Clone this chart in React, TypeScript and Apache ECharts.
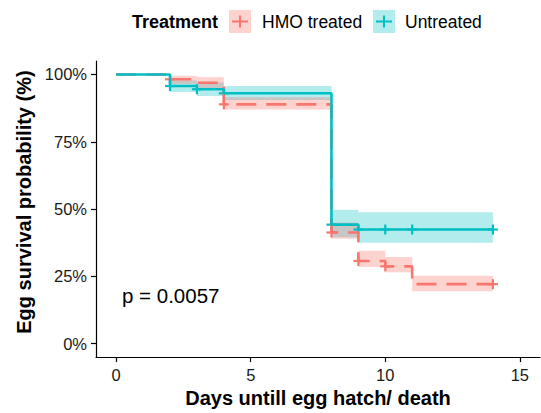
import React, { useEffect, useRef } from "react";
import * as echarts from "echarts";

// Kaplan-Meier step values
const hmoTimes = [0, 2, 3, 4, 8, 9, 10, 11, 14];
const hmoSurv = [1, 0.982, 0.969, 0.889, 0.413, 0.307, 0.287, 0.221, 0.221];
const untTimes = [0, 2, 3, 4, 8, 9, 14];
const untSurv = [1, 0.957, 0.945, 0.93, 0.442, 0.424, 0.424];

// confidence bands: [start, end, lower, upper]
const hmoBands = [
  [2, 3, 0.965, 0.995],
  [3, 4, 0.948, 0.99],
  [4, 8, 0.87, 0.915],
  [8, 9, 0.39, 0.45],
  [9, 10, 0.285, 0.345],
  [10, 11, 0.265, 0.322],
  [11, 14, 0.195, 0.252],
];
const untBands = [
  [2, 3, 0.935, 0.978],
  [3, 4, 0.92, 0.97],
  [4, 8, 0.905, 0.957],
  [8, 9, 0.395, 0.497],
  [9, 14, 0.375, 0.488],
];

// censor marks
const hmoCensorT = [2, 4, 8, 9, 10, 14];
const hmoCensorS = [0.982, 0.889, 0.413, 0.307, 0.287, 0.221];
const untCensorT = [2, 3, 4, 8, 9, 10, 11, 14];
const untCensorS = [0.957, 0.945, 0.93, 0.442, 0.424, 0.424, 0.424, 0.424];

const xTicks = [0, 5, 10, 15];
const yTicks = [0, 0.25, 0.5, 0.75, 1];

const RED = "#F8766D";
const TEAL = "#00BFC4";
const RED_FILL = "rgba(248,118,109,0.32)";
const TEAL_FILL = "rgba(0,191,196,0.3)";
const FONT = "Liberation Sans, Arial, sans-serif";

function bandSeries(data: number[][], fill: string) {
  return {
    type: "custom",
    silent: true,
    data,
    renderItem: (_p: any, api: any) => {
      const a = api.coord([api.value(0), api.value(3)]);
      const b = api.coord([api.value(1), api.value(2)]);
      return {
        type: "rect",
        shape: { x: a[0], y: a[1], width: b[0] - a[0], height: b[1] - a[1] },
        style: { fill },
      };
    },
  };
}

function censorSeries(ts: number[], ss: number[], color: string) {
  return {
    type: "custom",
    silent: true,
    data: ts.map((t, i) => [t, ss[i]]),
    renderItem: (_p: any, api: any) => {
      const c = api.coord([api.value(0), api.value(1)]);
      return {
        type: "group",
        children: [
          {
            type: "line",
            shape: { x1: c[0] - 5, y1: c[1], x2: c[0] + 5, y2: c[1] },
            style: { stroke: color, lineWidth: 2.2 },
          },
          {
            type: "line",
            shape: { x1: c[0], y1: c[1] - 5, x2: c[0], y2: c[1] + 5 },
            style: { stroke: color, lineWidth: 2.2 },
          },
        ],
      };
    },
  };
}

export default function App() {
  const ref = useRef<HTMLDivElement>(null);
  useEffect(() => {
    document.body.style.margin = "0";
    const chart = echarts.init(ref.current!, null, { renderer: "svg" });
    const axisText = { color: "#1a1a1a", fontSize: 16.5, fontFamily: FONT };
    chart.setOption({
      animation: false,
      grid: { left: 96, top: 61, right: 1, bottom: 52 },
      xAxis: {
        type: "value",
        min: -0.75,
        max: 15.75,
        name: "Days untill egg hatch/ death",
        nameLocation: "middle",
        nameGap: 30,
        nameTextStyle: { fontSize: 20, fontWeight: "bold", color: "#000", fontFamily: FONT },
        axisLine: { onZero: false, lineStyle: { color: "#000", width: 1.2 } },
        axisTick: { customValues: xTicks, length: 5, lineStyle: { color: "#000", width: 1.2 } },
        axisLabel: { customValues: xTicks, margin: 9, ...axisText },
        splitLine: { show: false },
      },
      yAxis: {
        type: "value",
        min: -0.05,
        max: 1.05,
        name: "Egg survival probability (%)",
        nameLocation: "middle",
        nameGap: 53,
        nameTextStyle: {
          fontSize: 20,
          fontWeight: "bold",
          color: "#000",
          fontFamily: FONT,
          padding: [0, 0, 0, 14],
        },
        axisLine: { onZero: false, lineStyle: { color: "#000", width: 1.2 } },
        axisTick: { customValues: yTicks, length: 5, lineStyle: { color: "#000", width: 1.2 } },
        axisLabel: {
          customValues: yTicks,
          margin: 9,
          formatter: (v: number) => Math.round(v * 100) + "%",
          ...axisText,
        },
        splitLine: { show: false },
      },
      graphic: [
        {
          type: "text",
          left: 132,
          top: 13,
          style: { text: "Treatment", fontSize: 18, fontWeight: "bold", fill: "#000", fontFamily: FONT },
        },
        { type: "rect", shape: { x: 229, y: 10, width: 22, height: 23 }, style: { fill: RED_FILL } },
        { type: "line", shape: { x1: 232, y1: 21.5, x2: 248, y2: 21.5 }, style: { stroke: RED, lineWidth: 2 } },
        { type: "line", shape: { x1: 240, y1: 15.5, x2: 240, y2: 27.5 }, style: { stroke: RED, lineWidth: 2 } },
        {
          type: "text",
          left: 262,
          top: 13,
          style: { text: "HMO treated", fontSize: 17.5, fill: "#000", fontFamily: FONT },
        },
        { type: "rect", shape: { x: 373, y: 10, width: 22, height: 23 }, style: { fill: TEAL_FILL } },
        { type: "line", shape: { x1: 376, y1: 21.5, x2: 392, y2: 21.5 }, style: { stroke: TEAL, lineWidth: 2 } },
        { type: "line", shape: { x1: 384, y1: 15.5, x2: 384, y2: 27.5 }, style: { stroke: TEAL, lineWidth: 2 } },
        {
          type: "text",
          left: 405,
          top: 13,
          style: { text: "Untreated", fontSize: 17.5, fill: "#000", fontFamily: FONT },
        },
        {
          type: "text",
          left: 122,
          top: 285,
          style: { text: "p = 0.0057", fontSize: 20.5, fill: "#000", fontFamily: FONT },
        },
      ],
      series: [
        bandSeries(untBands, TEAL_FILL),
        bandSeries(hmoBands, RED_FILL),
        {
          type: "line",
          name: "HMO treated",
          step: "end",
          symbol: "none",
          data: hmoTimes.map((t, i) => [t, hmoSurv[i]]),
          lineStyle: { color: RED, width: 2.6, type: [20, 10] },
        },
        {
          type: "line",
          name: "Untreated",
          step: "end",
          symbol: "none",
          data: untTimes.map((t, i) => [t, untSurv[i]]),
          lineStyle: { color: TEAL, width: 2.6 },
        },
        censorSeries(hmoCensorT, hmoCensorS, RED),
        censorSeries(untCensorT, untCensorS, TEAL),
      ],
    });
    return () => chart.dispose();
  }, []);
  return <div ref={ref} style={{ width: 541, height: 413 }} />;
}
